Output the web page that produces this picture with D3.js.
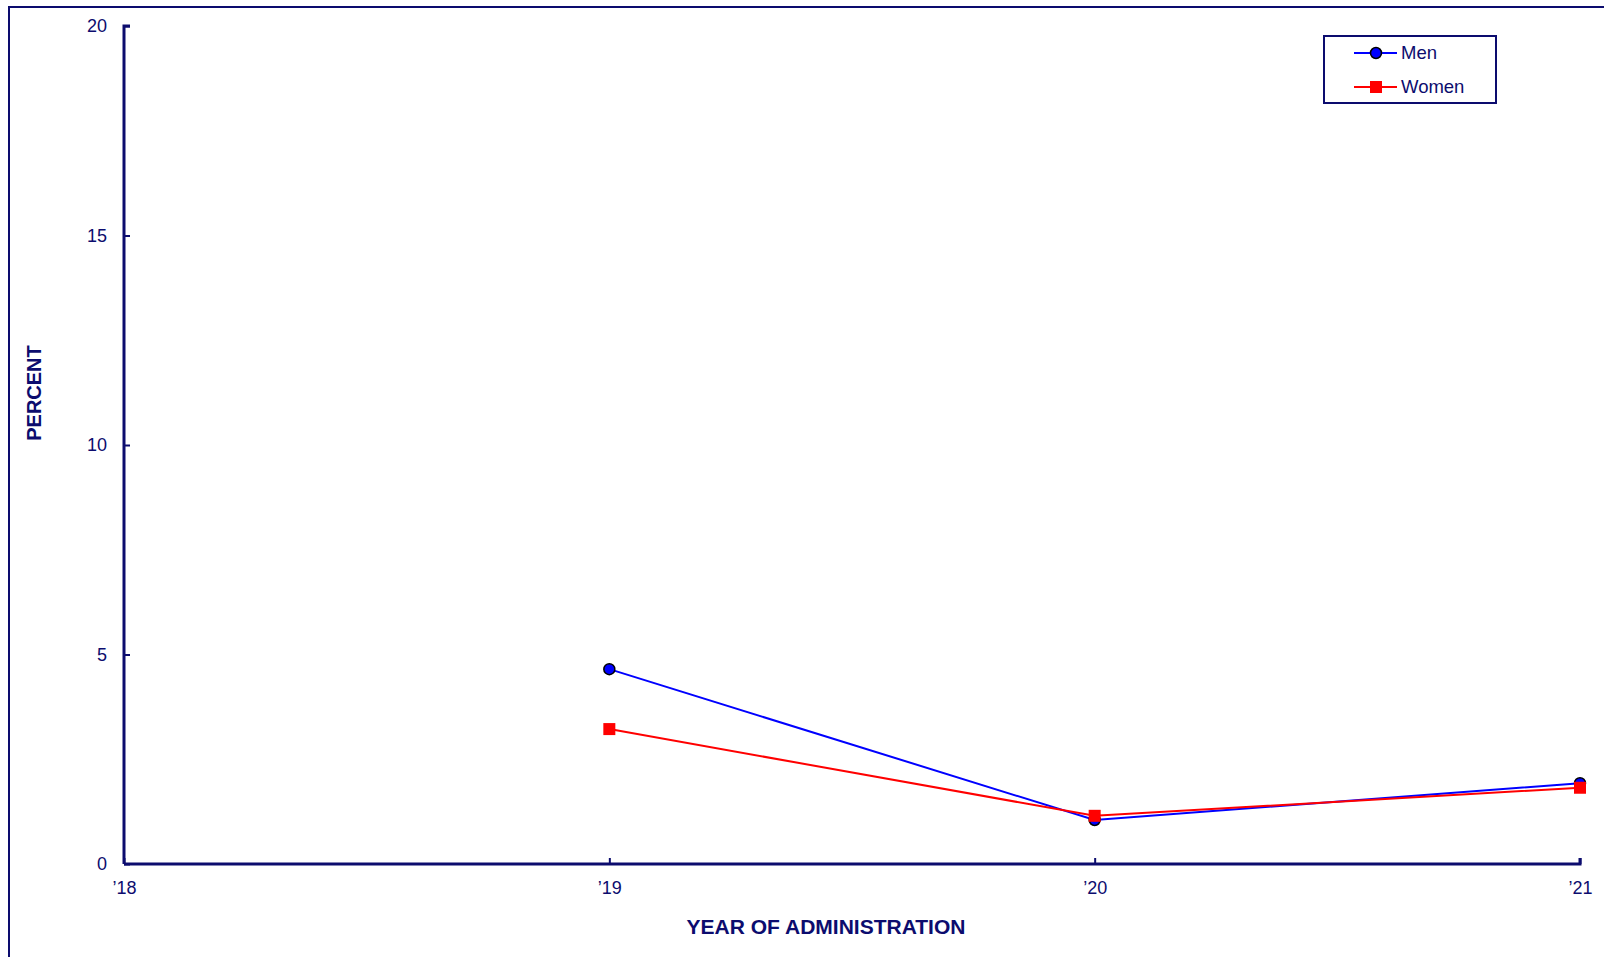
<!DOCTYPE html>
<html><head><meta charset="utf-8">
<script src="https://cdn.jsdelivr.net/npm/d3@7"></script>
<style>
html,body{margin:0;padding:0;background:#fff;}
svg{display:block;font-family:"Liberation Sans",Arial,sans-serif;}
</style></head>
<body>
<script>
const years = ["\u201918", "\u201919", "\u201920", "\u201921"];
const menValues = [null, 4.65, 1.05, 1.93];
const womenValues = [null, 3.22, 1.15, 1.82];
const yTicks = [0, 5, 10, 15, 20];
const seriesNames = ["Men", "Women"];

const W = 1604, H = 957;
const navy = "#0c0c6e";
const svg = d3.select("body").append("svg").attr("width", W).attr("height", H);

// outer frame (extends beyond the visible area)
svg.append("rect").attr("x", 9).attr("y", 7).attr("width", W + 20).attr("height", H + 20)
  .attr("fill", "none").attr("stroke", navy).attr("stroke-width", 2);

const x = d3.scalePoint().domain(years).range([124, 1580]);
const y = d3.scaleLinear().domain([0, 20]).range([864, 26]);

// y axis
const yAxis = svg.append("g").attr("transform", "translate(124,0)")
  .call(d3.axisRight(y).tickValues(yTicks).tickSize(6).tickFormat(d3.format("d")));
yAxis.select(".domain").attr("stroke", navy).attr("stroke-width", 3)
  .attr("d", `M6,${y(20)}H0V${y(0)}`);
yAxis.selectAll(".tick line").attr("stroke", navy).attr("stroke-width", 2);
yAxis.selectAll(".tick text").attr("x", -17).attr("text-anchor", "end")
  .attr("fill", navy).attr("font-size", 18).attr("font-family", "Liberation Sans, Arial, sans-serif")
  .attr("dy", "0.32em");

// x axis
const xAxis = svg.append("g").attr("transform", "translate(0,864)")
  .call(d3.axisTop(x).tickSize(6));
xAxis.select(".domain").attr("stroke", navy).attr("stroke-width", 3)
  .attr("d", `M${x(years[0])},0H${x(years[3])}V-6`);
xAxis.selectAll(".tick line").attr("stroke", navy).attr("stroke-width", 2);
xAxis.selectAll(".tick text").attr("y", 24).attr("dy", "0.32em").attr("text-anchor", "middle")
  .attr("fill", navy).attr("font-size", 18).attr("font-family", "Liberation Sans, Arial, sans-serif");

// axis titles
svg.append("text").attr("x", 826).attr("y", 927).attr("dy", "0.35em").attr("text-anchor", "middle")
  .attr("font-weight", "bold").attr("font-size", 21).attr("fill", navy).text("YEAR OF ADMINISTRATION");
svg.append("text").attr("transform", "translate(34,393) rotate(-90)").attr("dy", "0.35em")
  .attr("text-anchor", "middle").attr("font-weight", "bold").attr("font-size", 20).attr("fill", navy)
  .text("PERCENT");

const line = d3.line().defined(d => d.v != null).x(d => x(d.k)).y(d => y(d.v));
const menData = years.map((k, i) => ({k, v: menValues[i]}));
const womenData = years.map((k, i) => ({k, v: womenValues[i]}));

// Men
svg.append("path").datum(menData).attr("d", line).attr("fill", "none")
  .attr("stroke", "#0000ff").attr("stroke-width", 2);
svg.selectAll("circle.men").data(menData.filter(d => d.v != null)).join("circle")
  .attr("class", "men").attr("cx", d => x(d.k)).attr("cy", d => y(d.v)).attr("r", 5.5)
  .attr("fill", "#0000ff").attr("stroke", "#000").attr("stroke-width", 1.5);

// Women
svg.append("path").datum(womenData).attr("d", line).attr("fill", "none")
  .attr("stroke", "#ff0000").attr("stroke-width", 2);
svg.selectAll("rect.women").data(womenData.filter(d => d.v != null)).join("rect")
  .attr("class", "women").attr("x", d => x(d.k) - 6).attr("y", d => y(d.v) - 6)
  .attr("width", 12).attr("height", 12).attr("fill", "#ff0000");

// legend
const lg = svg.append("g");
lg.append("rect").attr("x", 1324).attr("y", 36).attr("width", 172).attr("height", 67)
  .attr("fill", "#fff").attr("stroke", navy).attr("stroke-width", 2);
const colors = ["#0000ff", "#ff0000"];
seriesNames.forEach((name, i) => {
  const ly = 53 + i * 34;
  lg.append("line").attr("x1", 1354).attr("x2", 1397).attr("y1", ly).attr("y2", ly)
    .attr("stroke", colors[i]).attr("stroke-width", 2);
  if (i === 0) {
    lg.append("circle").attr("cx", 1376).attr("cy", ly).attr("r", 5.5)
      .attr("fill", colors[i]).attr("stroke", "#000").attr("stroke-width", 1.5);
  } else {
    lg.append("rect").attr("x", 1370).attr("y", ly - 6).attr("width", 12).attr("height", 12)
      .attr("fill", colors[i]);
  }
  lg.append("text").attr("x", 1401).attr("y", ly).attr("dy", "0.35em").attr("font-size", 18.5)
    .attr("fill", navy).text(name);
});
</script>
</body></html>
